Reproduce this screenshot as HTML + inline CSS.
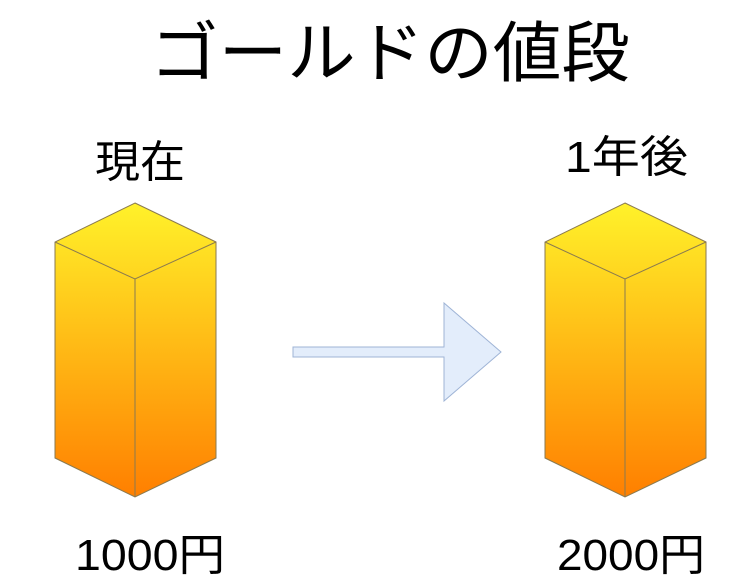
<!DOCTYPE html>
<html><head><meta charset="utf-8"><style>
html,body{margin:0;padding:0;background:#fff;}
svg{display:block;}
text{font-family:"Liberation Sans","Noto Sans CJK JP",sans-serif;fill:#000;}
</style></head><body>
<svg width="750" height="580" viewBox="0 0 750 580" xmlns="http://www.w3.org/2000/svg">
<defs>
<linearGradient id="g" x1="0" y1="0" x2="0" y2="1" gradientUnits="objectBoundingBox">
<stop offset="0" stop-color="#fff22a"/>
<stop offset="1" stop-color="#ff7f00"/>
</linearGradient>
<linearGradient id="g2" gradientUnits="userSpaceOnUse" x1="0" y1="203" x2="0" y2="497">
<stop offset="0" stop-color="#fff22a"/>
<stop offset="1" stop-color="#ff7f00"/>
</linearGradient>
</defs>
<text x="390" y="76" font-size="66" text-anchor="middle" textLength="480" lengthAdjust="spacingAndGlyphs">ゴールドの値段</text>
<text x="95" y="177" font-size="44" textLength="90" lengthAdjust="spacingAndGlyphs">現在</text>
<text x="565" y="172" font-size="44" textLength="123" lengthAdjust="spacingAndGlyphs">1年後</text>
<text x="75" y="570" font-size="44" textLength="150" lengthAdjust="spacingAndGlyphs">1000円</text>
<text x="557" y="570" font-size="44" textLength="148" lengthAdjust="spacingAndGlyphs">2000円</text>
<g stroke="#8a7a50" stroke-width="1" fill="url(#g2)">
<polygon points="135,203 216,242 216,458 135,497 55,458 55,242"/>
<polyline fill="none" points="55,242 135,279 216,242"/>
<line x1="135" y1="279" x2="135" y2="497"/>
</g>
<g transform="translate(490,0)" stroke="#8a7a50" stroke-width="1" fill="url(#g2)">
<polygon points="135,203 216,242 216,458 135,497 55,458 55,242"/>
<polyline fill="none" points="55,242 135,279 216,242"/>
<line x1="135" y1="279" x2="135" y2="497"/>
</g>
<polygon points="293,347 444,347 444,303 501,352 444,401 444,357 293,357" fill="#e3edfb" stroke="#9fb4d6" stroke-width="1"/>
</svg>
</body></html>
